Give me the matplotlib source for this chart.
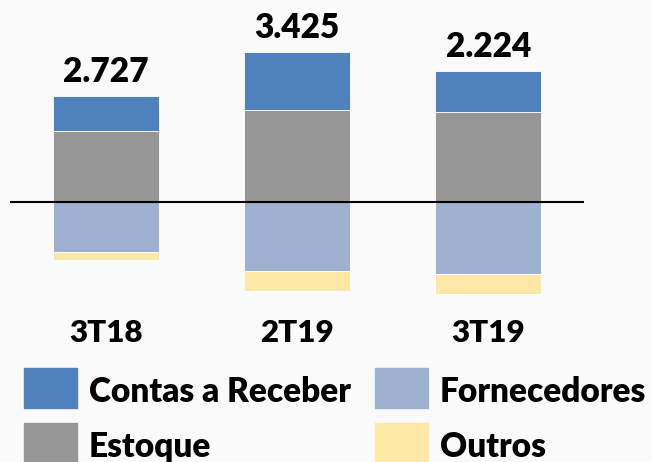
import numpy as np
import matplotlib
matplotlib.use("Agg")
import matplotlib.pyplot as plt
from matplotlib.patches import Rectangle
from matplotlib.transforms import blended_transform_factory

# valores (R$ mil)
periodos = ["3T18", "2T19", "3T19"]
contas_receber = [2000, 3340, 2390]
estoque = [4070, 5240, 5125]
fornecedores = [-2920, -3990, -4178]
outros = [-423, -1165, -1113]

series = ["Contas a Receber", "Estoque", "Fornecedores", "Outros"]
cores = {"Contas a Receber": "#4f81bd", "Estoque": "#969696",
         "Fornecedores": "#9fb1d0", "Outros": "#fde8a8"}

plt.rcParams["font.family"] = ["Lato", "DejaVu Sans"]
peso = "heavy"

W, H = 652, 462
fig = plt.figure(figsize=(W / 100, H / 100), dpi=100)
fig.patch.set_facecolor("#fafafa")

# eixo: x de 10 a 584 px, y do topo ate 300 px
ax = fig.add_axes([10 / W, (H - 300) / H, 574 / W, 300 / H])
ax.set_facecolor("none")
escala = 57.4  # valor por pixel
ax.set_xlim(-0.5, 2.5)
ax.set_ylim(-(300 - 201.5) * escala, 201.5 * escala)
ax.axis("off")

x = np.arange(len(periodos))
larg = 0.554
rec = np.array(contas_receber)
est = np.array(estoque)
forn = np.array(fornecedores)
out = np.array(outros)

kw = dict(width=larg, edgecolor="white", linewidth=0.6)
ax.bar(x, est, color=cores["Estoque"], **kw)
ax.bar(x, rec, bottom=est, color=cores["Contas a Receber"], **kw)
ax.bar(x, forn, color=cores["Fornecedores"], **kw)
ax.bar(x, out, bottom=forn, color=cores["Outros"], **kw)
ax.axhline(0, color="black", linewidth=1.5, zorder=5)

total = rec + est + forn + out
for xi, top, t in zip(x, rec + est, total):
    txt = f"{t:,}".replace(",", ".")
    ax.annotate(txt, (xi, top), xytext=(0, 10), textcoords="offset points",
                ha="center", va="baseline", fontsize=24, fontweight=peso)

tr = blended_transform_factory(ax.transData, fig.transFigure)
for xi, p in zip(x, periodos):
    ax.text(xi, 1 - 341.7 / H, p, transform=tr, ha="center", va="baseline",
            fontsize=22.5, fontweight=peso)

# legenda em duas colunas (quadrados 53x40 px)
col_x = [24, 375]
lin_y = [368.3, 423.3]
for i, nome in enumerate(series):
    cx = col_x[i // 2]
    ly = lin_y[i % 2]
    fig.add_artist(Rectangle((cx / W, 1 - (ly + 40) / H), 53 / W, 40 / H,
                             transform=fig.transFigure, color=cores[nome]))
    fig.text((cx + 65) / W, 1 - (ly + 33.5) / H, nome, fontsize=24,
             fontweight=peso, va="baseline", ha="left")

fig.savefig("out.png", dpi=100, facecolor=fig.get_facecolor())
